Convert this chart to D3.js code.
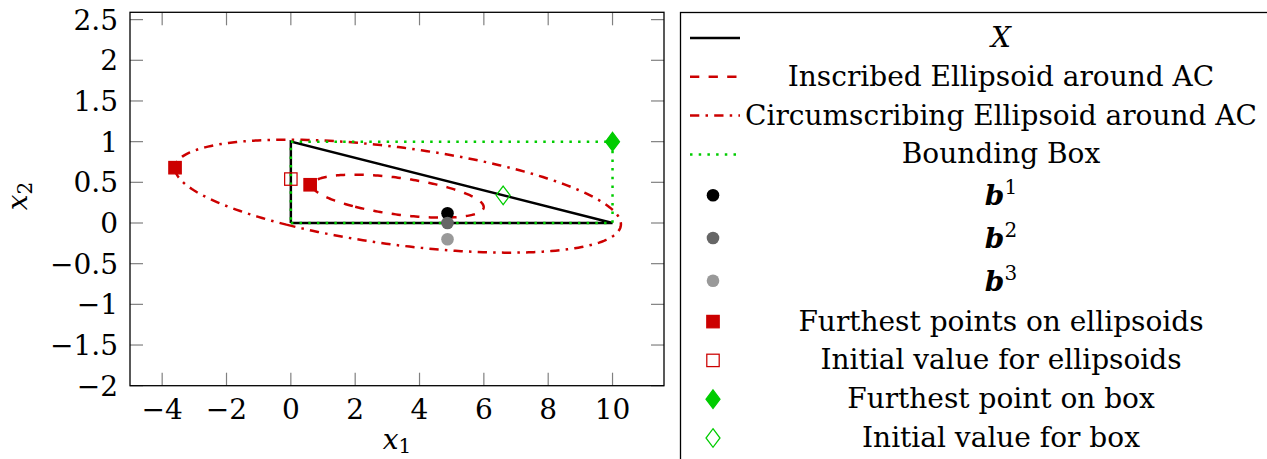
<!DOCTYPE html>
<html>
<head>
<meta charset="utf-8">
<script src="https://cdn.jsdelivr.net/npm/d3@7"></script>
<style>
  body { margin: 0; background: #fff; }
  svg { display: block; }
  text { font-family: "DejaVu Serif", serif; fill: #000; }
</style>
</head>
<body>
<div id="chart"></div>
<script>
// Data
const xTicks = [-4, -2, 0, 2, 4, 6, 8, 10];
const yTicks = [-2, -1.5, -1, -0.5, 0, 0.5, 1, 1.5, 2, 2.5];
const triangleX = [[0, 0], [10, 0], [0, 1], [0, 0]];
const boundingBox = [[0, 0], [10, 0], [10, 1], [0, 1], [0, 0]];
// ellipses: centre plus two conjugate semi-axis vectors
const inscribedCenter = [3.33, 0.33];
const inscribedAxes = [[-1.33, -0.13], [2.31, -0.23]];
const circumCenter = [3.33, 0.33];
const circumAxes = [[-3.47, -0.35], [6.0, -0.6]];
const bPoints = [[4.87, 0.12], [4.87, 0.0], [4.87, -0.2]];
const bColors = ["#000000", "#666666", "#999999"];
const furthestEllipsoid = [[-3.6, 0.68], [0.6, 0.47]];
const initialEllipsoid = [[0, 0.54]];
const furthestBox = [[10, 1]];
const initialBox = [[6.6, 0.34]];
const legendLabels = ["X", "Inscribed Ellipsoid around AC", "Circumscribing Ellipsoid around AC",
  "Bounding Box", "b|1", "b|2", "b|3", "Furthest points on ellipsoids",
  "Initial value for ellipsoids", "Furthest point on box", "Initial value for box"];

const red = "#cc0000", green = "#00cc00";
const width = 1267, height = 459;
const plot = {left: 130, right: 664, top: 12.3, bottom: 385.7};

const svg = d3.select("#chart").append("svg")
  .attr("width", width)
  .attr("height", height);

const x = d3.scaleLinear().domain([-5, 11.6]).range([plot.left, plot.right]);
const y = d3.scaleLinear().domain([-2, 2.59]).range([plot.bottom, plot.top]);

const line = d3.line().x(d => x(d[0])).y(d => y(d[1]));

function ellipsePoints(c, axes) {
  return d3.range(0, 241).map(i => {
    const t = i / 240 * 2 * Math.PI;
    return [c[0] + axes[0][0] * Math.cos(t) + axes[1][0] * Math.sin(t),
            c[1] + axes[0][1] * Math.cos(t) + axes[1][1] * Math.sin(t)];
  });
}

const fmt = v => String(v).replace("-", "\u2212");

// Ticks (inside, all four sides)
const ticks = svg.append("g").attr("stroke", "#808080").attr("stroke-width", 1.2);
xTicks.forEach(v => {
  ticks.append("line").attr("x1", x(v)).attr("x2", x(v)).attr("y1", plot.bottom).attr("y2", plot.bottom - 13);
  ticks.append("line").attr("x1", x(v)).attr("x2", x(v)).attr("y1", plot.top).attr("y2", plot.top + 13);
});
yTicks.forEach(v => {
  ticks.append("line").attr("y1", y(v)).attr("y2", y(v)).attr("x1", plot.left).attr("x2", plot.left + 13);
  ticks.append("line").attr("y1", y(v)).attr("y2", y(v)).attr("x1", plot.right).attr("x2", plot.right - 13);
});

// Tick labels
svg.append("g").selectAll("text")
  .data(xTicks).enter().append("text")
  .attr("x", d => x(d))
  .attr("y", 419)
  .attr("text-anchor", "middle")
  .attr("font-size", "28px")
  .text(fmt);
svg.append("g").selectAll("text")
  .data(yTicks).enter().append("text")
  .attr("x", 118)
  .attr("y", d => y(d) + 10)
  .attr("text-anchor", "end")
  .attr("font-size", "28px")
  .text(fmt);

// Axis labels
const xl = svg.append("text")
  .attr("x", 397).attr("y", 449)
  .attr("text-anchor", "middle")
  .attr("font-size", "28px");
xl.append("tspan").attr("font-style", "italic").text("x");
xl.append("tspan").attr("font-size", "20px").attr("dy", 4).text("1");

const yl = svg.append("text")
  .attr("transform", "translate(27,196) rotate(-90)")
  .attr("text-anchor", "middle")
  .attr("font-size", "28px");
yl.append("tspan").attr("font-style", "italic").text("x");
yl.append("tspan").attr("font-size", "20px").attr("dy", 5).text("2");

// Plot content, clipped to axis box
svg.append("clipPath").attr("id", "clip")
  .append("rect")
  .attr("x", plot.left).attr("y", plot.top)
  .attr("width", plot.right - plot.left).attr("height", plot.bottom - plot.top);
const g = svg.append("g").attr("clip-path", "url(#clip)");

const styles = [
  {stroke: "#000", dash: null},
  {stroke: red, dash: "9.3,9.3"},
  {stroke: red, dash: "9.3,6.2,2.5,6.2"},
  {stroke: green, dash: "2.5,6.2"}
];
const curves = [triangleX, ellipsePoints(inscribedCenter, inscribedAxes),
  ellipsePoints(circumCenter, circumAxes), boundingBox];

curves.forEach((pts, i) => {
  g.append("path")
    .datum(pts)
    .attr("fill", "none")
    .attr("stroke", styles[i].stroke)
    .attr("stroke-width", 2.5)
    .attr("stroke-dasharray", styles[i].dash)
    .attr("d", line);
});

g.selectAll("circle.b")
  .data(bPoints).enter().append("circle")
  .attr("class", "b")
  .attr("cx", d => x(d[0]))
  .attr("cy", d => y(d[1]))
  .attr("r", 6.3)
  .attr("fill", (d, i) => bColors[i]);

const sq = 6.2;
function square(sel, data, filled) {
  sel.selectAll(null)
    .data(data).enter().append("rect")
    .attr("x", d => x(d[0]) - sq)
    .attr("y", d => y(d[1]) - sq)
    .attr("width", 2 * sq).attr("height", 2 * sq)
    .attr("fill", filled ? red : "none")
    .attr("stroke", red)
    .attr("stroke-width", 1.25);
}
const diamondPath = d3.line()([[0, -9.3], [7, 0], [0, 9.3], [-7, 0]]) + "Z";
function diamond(sel, data, filled) {
  sel.selectAll(null)
    .data(data).enter().append("path")
    .attr("transform", d => `translate(${x(d[0])},${y(d[1])})`)
    .attr("d", diamondPath)
    .attr("fill", filled ? green : "none")
    .attr("stroke", green)
    .attr("stroke-width", 1.25);
}
square(g, furthestEllipsoid, true);
square(g, initialEllipsoid, false);
diamond(g, furthestBox, true);
diamond(g, initialBox, false);

// Axis frame
svg.append("rect")
  .attr("x", plot.left).attr("y", plot.top)
  .attr("width", plot.right - plot.left).attr("height", plot.bottom - plot.top)
  .attr("fill", "none")
  .attr("stroke", "#000")
  .attr("stroke-width", 1.3);

// Legend
const legend = svg.append("g");
legend.append("rect")
  .attr("x", 680.5).attr("y", 12.5)
  .attr("width", 700).attr("height", 600)
  .attr("fill", "#fff")
  .attr("stroke", "#000")
  .attr("stroke-width", 1.3);

const isB = l => l.startsWith("b|");
let rowY = [38];
for (let i = 1; i < legendLabels.length; i++) {
  rowY.push(rowY[i - 1] + 38.8 + 2 * (isB(legendLabels[i - 1]) + isB(legendLabels[i])));
}

styles.forEach((s, i) => {
  legend.append("line")
    .attr("x1", 690).attr("x2", 740)
    .attr("y1", rowY[i]).attr("y2", rowY[i])
    .attr("stroke", s.stroke)
    .attr("stroke-width", 2.5)
    .attr("stroke-dasharray", s.dash);
});
const mx = 713;
bColors.forEach((c, i) => {
  legend.append("circle").attr("cx", mx).attr("cy", rowY[4 + i]).attr("r", 6.3).attr("fill", c);
});
[[7, true], [8, false]].forEach(([r, f]) => {
  legend.append("rect")
    .attr("x", mx - sq).attr("y", rowY[r] - sq)
    .attr("width", 2 * sq).attr("height", 2 * sq)
    .attr("fill", f ? red : "none").attr("stroke", red).attr("stroke-width", 1.25);
});
[[9, true], [10, false]].forEach(([r, f]) => {
  legend.append("path")
    .attr("transform", `translate(${mx},${rowY[r]})`)
    .attr("d", diamondPath)
    .attr("fill", f ? green : "none").attr("stroke", green).attr("stroke-width", 1.25);
});

legendLabels.forEach((lab, i) => {
  const t = legend.append("text")
    .attr("x", 1001)
    .attr("y", rowY[i] + (isB(lab) ? 10 : 9))
    .attr("text-anchor", "middle")
    .attr("font-size", "28px");
  if (i === 0) {
    t.attr("font-style", "italic").text(lab);
  } else if (isB(lab)) {
    t.append("tspan").attr("font-style", "italic").attr("font-weight", "bold").text("b");
    t.append("tspan").attr("font-size", "20px").attr("dy", -11).text(lab.split("|")[1]);
  } else {
    t.text(lab);
  }
});
</script>
</body>
</html>
